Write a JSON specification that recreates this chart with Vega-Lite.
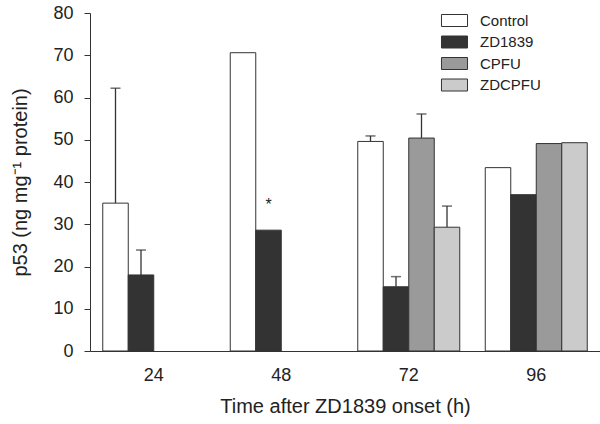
{
  "$schema": "https://vega.github.io/schema/vega-lite/v6.json",
  "width": 510,
  "height": 338,
  "autosize": {"type": "none"},
  "padding": {"left": 90, "top": 13, "right": 0, "bottom": 73},
  "background": "white",
  "config": {
    "view": {"stroke": null},
    "font": "Liberation Sans",
    "axis": {"labelColor": "#222", "titleColor": "#222", "domainColor": "#333", "tickColor": "#333", "labelFont": "Liberation Sans", "titleFont": "Liberation Sans", "titleFontWeight": "normal"},
    "legend": {"padding": 0}
  },
  "data": {
    "values": [
      {"time": "24", "group": "Control", "value": 35.0, "err": 62.2},
      {"time": "24", "group": "ZD1839", "value": 18.0, "err": 23.9},
      {"time": "48", "group": "Control", "value": 70.6},
      {"time": "48", "group": "ZD1839", "value": 28.6, "star": "*"},
      {"time": "72", "group": "Control", "value": 49.6, "err": 50.9},
      {"time": "72", "group": "ZD1839", "value": 15.2, "err": 17.6},
      {"time": "72", "group": "CPFU", "value": 50.4, "err": 56.1},
      {"time": "72", "group": "ZDCPFU", "value": 29.3, "err": 34.3},
      {"time": "96", "group": "Control", "value": 43.4},
      {"time": "96", "group": "ZD1839", "value": 37.0},
      {"time": "96", "group": "CPFU", "value": 49.1},
      {"time": "96", "group": "ZDCPFU", "value": 49.3}
    ]
  },
  "encoding": {
    "x": {
      "field": "time", "type": "nominal",
      "scale": {"domain": ["24", "48", "72", "96"], "paddingInner": 0.2, "paddingOuter": 0.1},
      "axis": {"labelAngle": 0, "ticks": false, "labelFontSize": 18, "labelPadding": 15, "title": "Time after ZD1839 onset (h)", "titleFontSize": 20, "titlePadding": 12, "domainWidth": 1}
    },
    "xOffset": {"field": "group", "type": "nominal", "scale": {"domain": ["Control", "ZD1839", "CPFU", "ZDCPFU"], "paddingInner": 0, "paddingOuter": 0}}
  },
  "layer": [
    {
      "mark": {"type": "rule", "stroke": "#333", "strokeWidth": 1.3},
      "encoding": {
        "y": {"field": "value", "type": "quantitative"},
        "y2": {"field": "err"}
      }
    },
    {
      "mark": {"type": "tick", "color": "#333", "thickness": 1.5, "size": 10},
      "encoding": {
        "y": {"field": "err", "type": "quantitative"}
      }
    },
    {
      "mark": {"type": "bar", "stroke": "#333", "strokeWidth": 1},
      "encoding": {
        "y": {
          "field": "value", "type": "quantitative",
          "scale": {"domain": [0, 80], "nice": false},
          "axis": {"values": [0, 10, 20, 30, 40, 50, 60, 70, 80], "grid": false, "tickSize": 6, "labelFontSize": 18, "labelPadding": 11, "title": "p53 (ng mg⁻¹ protein)", "titleFontSize": 20, "titlePadding": 22}
        },
        "fill": {
          "field": "group", "type": "nominal",
          "scale": {"domain": ["Control", "ZD1839", "CPFU", "ZDCPFU"], "range": ["#ffffff", "#333333", "#9a9a9a", "#cbcbcb"]},
          "legend": {
            "title": null, "orient": "none", "legendX": 357, "legendY": 0,
            "symbolType": "M-2.17,-1H2.17V1H-2.17Z", "symbolSize": 144,
            "symbolStrokeColor": "#333", "symbolStrokeWidth": 1,
            "labelFontSize": 15, "labelColor": "#222", "labelFont": "Liberation Sans",
            "rowPadding": 4.5, "labelOffset": 18, "symbolOffset": 0
          }
        }
      }
    },
    {
      "mark": {"type": "text", "fontSize": 16, "dy": -20, "baseline": "alphabetic", "color": "#222"},
      "encoding": {
        "y": {"field": "value", "type": "quantitative"},
        "text": {"field": "star"}
      },
      "transform": [{"filter": "datum.star"}]
    }
  ]
}
